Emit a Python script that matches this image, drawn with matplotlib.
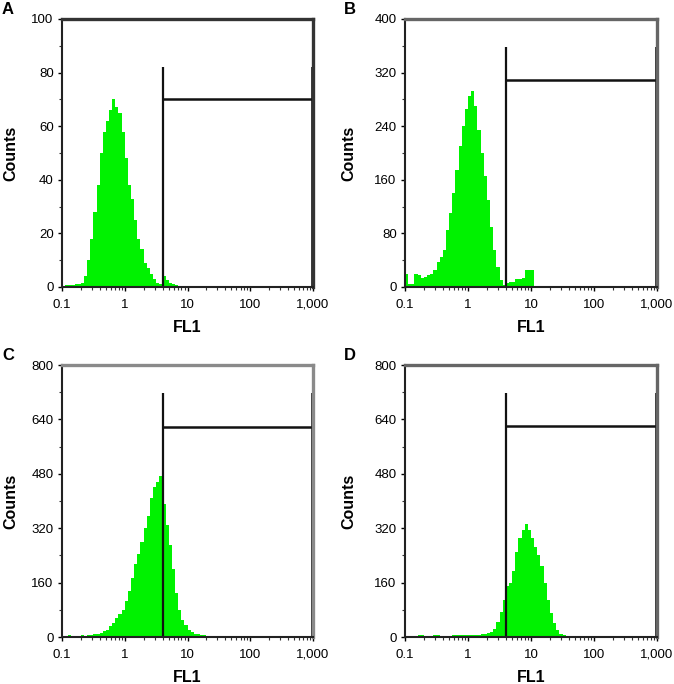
import numpy as np
import matplotlib
matplotlib.use("Agg")
import matplotlib.pyplot as plt
from matplotlib.ticker import FixedLocator, NullFormatter, LogLocator

plt.rcParams.update({
    "font.family": ["Liberation Sans", "DejaVu Sans"],
    "font.size": 8,
})

# ── data ──────────────────────────────────────────────────────────
# histograms on FL1 log axis: bins of 0.05 decade starting at 10^-1
LOG_START = -1.0
BIN_W = 0.05
N_BINS = 80

counts_a = ([0.5, 0.8, 0.6, 0.9, 1.0, 1.2, 1.5,
             4, 10, 18, 28, 38, 50, 58, 62, 66, 70, 67, 65, 58, 48, 38, 33, 25,
             18, 14, 9, 7, 5, 3, 1.5, 1,
             4, 2.5, 1.5, 1.0, 0.8]
            + [0.5, 0.4, 0.3, 0.3, 0.3, 0.3, 0.2, 0.2, 0.2, 0.2, 0.2, 0.2,
               0.2, 0.2, 0.2, 0.2, 0.2, 0.2, 0.2, 0.2, 0.2, 0.2, 0.2])
counts_b = [20, 5, 5, 20, 18, 14, 15, 18, 20, 25,
            38, 45, 55, 85, 110, 140, 175, 210, 240, 265,
            285, 293, 270, 235, 200, 165, 130, 90, 55, 30,
            10, 3, 6, 8, 8, 12, 12, 13, 26, 26, 26]
counts_c = ([3, 4, 5, 4, 3, 4, 5, 4, 5, 6,
             8, 10, 13, 18, 22, 32, 42, 55, 68, 80,
             105, 135, 175, 215, 245, 280, 320, 355, 410, 440,
             455, 475, 390, 330, 270, 200, 130, 80, 50, 35,
             22, 15, 10, 8, 6, 5, 4, 4, 3, 3,
             2, 2, 2, 2, 2, 2]
            + [1, 1, 1, 1, 1, 1, 1, 1, 1, 1, 1])
counts_d = ([2, 3, 4, 4, 5, 5, 4, 4, 4, 5, 5, 4, 4, 4, 4, 5, 5, 5, 6, 6,
             6, 6, 7, 7, 8,
             9, 11, 15, 25, 45, 75, 110, 150, 158, 195,
             250, 290, 315, 332, 315, 290, 265, 240, 210, 160,
             110, 70, 40, 20, 10, 6, 4, 3, 2]
            + [1, 1, 1, 1, 1])

# gate: (start FL1, vertical top, horizontal level)
gate_a = (4.0, 82, 70)
gate_b = (4.05, 358, 309)
gate_c = (4.0, 717, 618)
gate_d = (4.05, 717, 620)

yticks_a = [0, 20, 40, 60, 80, 100]
yticks_b = [0, 80, 160, 240, 320, 400]
yticks_cd = [0, 160, 320, 480, 640, 800]

xticks = [0.1, 1, 10, 100, 1000]
xticklabels = ["0.1", "1", "10", "100", "1,000"]

panel_letters = ["A", "B", "C", "D"]

GREEN = "#00f200"

W, H = 674, 684
fig = plt.figure(figsize=(W / 100, H / 100), dpi=100)


def px_axes(left, top, right, bottom):
    return fig.add_axes([left / W, 1 - bottom / H, (right - left) / W, (bottom - top) / H])


def draw_panel(ax, counts, gate, yticks, frame_color):
    c = np.zeros(N_BINS)
    c[:len(counts)] = counts
    edges = 10 ** (LOG_START + BIN_W * np.arange(N_BINS + 1))
    ax.stairs(c, edges, fill=True, color=GREEN, linewidth=0)

    ax.set_xscale("log")
    ax.set_xlim(0.1, 1000)
    ax.set_ylim(0, yticks[-1])
    ax.set_xticks(xticks)
    ax.set_xticklabels(xticklabels)
    ax.xaxis.set_minor_locator(LogLocator(base=10, subs=np.arange(2, 10)))
    ax.xaxis.set_minor_formatter(NullFormatter())
    ax.set_yticks(yticks)
    step = yticks[1] - yticks[0]
    ax.yaxis.set_minor_locator(FixedLocator(np.array(yticks[:-1]) + step / 2))

    ax.tick_params(axis="x", which="major", length=3, width=1.0, pad=5.5, labelsize=9.5)
    ax.tick_params(axis="y", which="major", length=3, width=1.0, pad=3.0, labelsize=9.5)
    ax.tick_params(which="minor", length=2, width=0.8, color="#333333")

    for s in ("left", "bottom"):
        ax.spines[s].set_color("#222222")
        ax.spines[s].set_linewidth(1.5)
    for s in ("top", "right"):
        ax.spines[s].set_color(frame_color)
        ax.spines[s].set_linewidth(2.4)

    x0, top, level = gate
    ax.plot([x0, x0], [0, top], color="#111111", lw=1.6, solid_capstyle="butt")
    ax.plot([1000, 1000], [0, top], color="#111111", lw=2.6, solid_capstyle="butt", clip_on=False)
    ax.plot([x0, 1000], [level, level], color="#111111", lw=1.8, solid_capstyle="butt")


ax_a = px_axes(62, 19, 313, 287)
ax_b = px_axes(405, 19, 657, 287)
ax_c = px_axes(62, 365, 313, 637)
ax_d = px_axes(405, 365, 657, 637)

draw_panel(ax_a, counts_a, gate_a, yticks_a, "#333333")
draw_panel(ax_b, counts_b, gate_b, yticks_b, "#666666")
draw_panel(ax_c, counts_c, gate_c, yticks_cd, "#8a8a8a")
draw_panel(ax_d, counts_d, gate_d, yticks_cd, "#666666")

# labels
lab = dict(fontsize=11.5, fontweight="bold")
for x in (11, 349):
    for yc in (153, 501):
        fig.text(x / W, 1 - yc / H, "Counts", rotation=90, ha="center", va="center", **lab)
for xc in (187, 531):
    for yl in (328, 678):
        fig.text(xc / W, 1 - yl / H, "FL1", ha="center", va="center", **lab)

for letter, (lx, ly) in zip(panel_letters, [(8, 9), (350, 9), (8, 355), (350, 355)]):
    fig.text(lx / W, 1 - ly / H, letter, ha="center", va="center", fontsize=12, fontweight="bold")

fig.savefig("out.png", dpi=100)
